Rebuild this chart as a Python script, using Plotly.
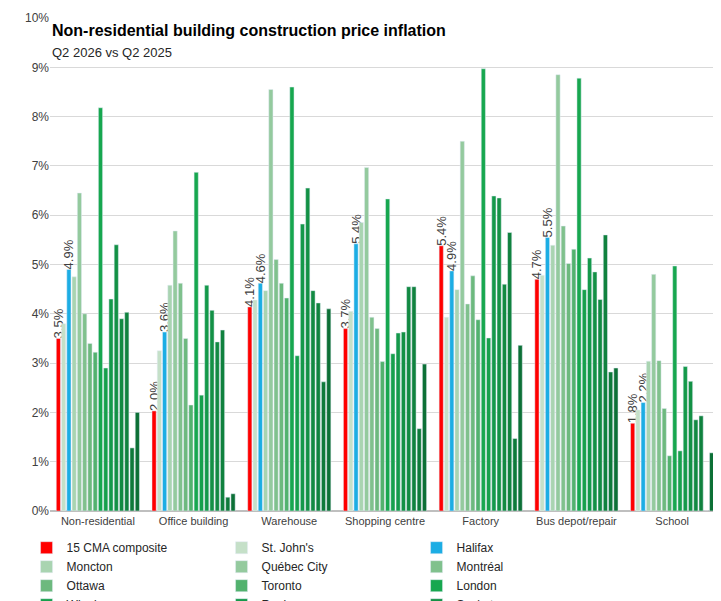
import plotly.graph_objects as go

categories = ["Non-residential", "Office building", "Warehouse", "Shopping centre", "Factory", "Bus depot/repair", "School"]
series_names = ["15 CMA composite", "St. John's", "Halifax", "Moncton", "Québec City", "Montréal", "Ottawa", "Toronto",
                "London", "Winnipeg", "Regina", "Saskatoon", "Calgary", "Edmonton", "Vancouver", "Victoria"]
colors = ["#FF0000", "#C5E0C8", "#1CADE4", "#A9D4B1", "#94CA9E", "#80C18D", "#6DB97E", "#52B26E",
          "#17A74F", "#16A04C", "#14994A", "#139145", "#128A42", "#10823E", "#0E7A3A", "#0C7036"]
# values per series (in %), order of categories
cma =       [3.5, 2.03, 4.14, 3.7, 5.38, 4.7, 1.78]
stjohns =   [3.8, 3.25, 4.28, 4.05, 3.93, 4.78, 2.05]
halifax =   [4.9, 3.63, 4.62, 5.42, 4.87, 5.55, 2.2]
moncton =   [4.75, 4.58, 4.47, 5.85, 4.49, 5.39, 3.04]
quebec =    [6.45, 5.68, 8.55, 6.97, 7.5, 8.85, 4.8]
montreal =  [4.0, 4.62, 5.1, 3.93, 4.2, 5.78, 3.05]
ottawa =    [3.4, 3.5, 4.62, 3.7, 4.77, 5.02, 2.08]
toronto =   [3.22, 2.15, 4.32, 3.03, 3.88, 5.31, 1.12]
london =    [8.18, 6.87, 8.6, 6.33, 8.97, 8.78, 4.97]
winnipeg =  [2.9, 2.35, 3.15, 3.19, 3.51, 4.49, 1.22]
regina =    [4.3, 4.58, 5.82, 3.61, 6.39, 5.13, 2.93]
saskatoon = [5.4, 4.07, 6.55, 3.63, 6.35, 4.85, 2.63]
calgary =   [3.9, 3.43, 4.47, 4.55, 4.6, 4.29, 1.85]
edmonton =  [4.03, 3.67, 4.22, 4.55, 5.65, 5.6, 1.93]
vancouver = [1.28, 0.28, 2.62, 1.67, 1.47, 2.82, 0.0]
victoria =  [2.0, 0.35, 4.1, 2.98, 3.36, 2.9, 1.18]
all_values = [cma, stjohns, halifax, moncton, quebec, montreal, ottawa, toronto,
              london, winnipeg, regina, saskatoon, calgary, edmonton, vancouver, victoria]
labelled = {"15 CMA composite", "Halifax"}

fig = go.Figure()
for name, vals, col in zip(series_names, all_values, colors):
    kw = {}
    if name in labelled:
        kw = dict(text=[f"{v:.1f}%" for v in vals], textposition="outside", textangle=-90,
                  constraintext="none", textfont=dict(size=13, color="#404040"), cliponaxis=False)
    fig.add_trace(go.Bar(name=name, x=categories, y=vals, marker_color=col, **kw))

fig.update_layout(
    width=721, height=601, barmode="group", bargap=0.12, bargroupgap=0.2,
    plot_bgcolor="white", paper_bgcolor="white",
    font=dict(family="Liberation Sans, Arial", size=12, color="#404040"),
    margin=dict(l=42, r=9, t=10, b=98, autoexpand=False),
    yaxis=dict(range=[0, 10], dtick=1, ticksuffix="%", gridcolor="#D9D9D9", zeroline=True,
               zerolinecolor="#BFBFBF", tickfont=dict(size=12, color="#404040")),
    xaxis=dict(showline=True, linecolor="#BFBFBF", tickfont=dict(size=11, color="#404040")),
    legend=dict(orientation="h", x=-0.035, xanchor="left", y=-0.045, yanchor="top",
                entrywidth=150, entrywidthmode="pixels", font=dict(size=12, color="#262626"),
                traceorder="normal", tracegroupgap=0),
    showlegend=True,
)
fig.add_annotation(xref="paper", yref="paper", x=0.0, y=0.995, xanchor="left", yanchor="top",
                   text="<b>Non-residential building construction price inflation</b>",
                   showarrow=False, font=dict(size=16, color="#000000"), bgcolor="white")
fig.add_annotation(xref="paper", yref="paper", x=0.0, y=0.95, xanchor="left", yanchor="top",
                   text="Q2 2026 vs Q2 2025", showarrow=False, font=dict(size=13, color="#262626"))
fig.write_html("out.html")
